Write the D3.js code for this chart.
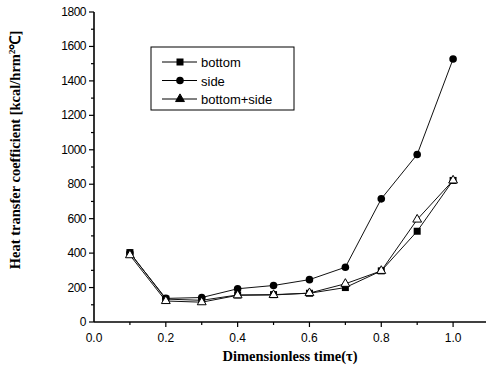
<!DOCTYPE html>
<meta charset="utf-8">
<html>
  <head>
    <style>
      body { margin: 0; background: #fff; }
      text.tick { font-family: "Liberation Sans", Arial, sans-serif; font-size: 12px; fill: #000; }
      text.title { font-family: "Liberation Serif", "Times New Roman", serif; font-weight: bold; font-size: 14.5px; fill: #000; }
      text.legend { font-family: "Liberation Sans", Arial, sans-serif; font-size: 13px; fill: #000; }
    </style>
    <script src="https://d3js.org/d3.v7.min.js"></script>
  </head>
  <body>
    <script>

      var width = 486,
          height = 373;

      // data
      var times = [0.1, 0.2, 0.3, 0.4, 0.5, 0.6, 0.7, 0.8, 0.9, 1.0];
      var bottom = [403, 133, 126, 157, 159, 167, 200, 297, 527, 822];
      var side = [400, 137, 142, 193, 212, 246, 318, 715, 973, 1527];
      var bottomSide = [388, 122, 115, 155, 157, 168, 222, 297, 595, 822];
      var seriesNames = ["bottom", "side", "bottom+side"];
      var xTicks = [0.0, 0.2, 0.4, 0.6, 0.8, 1.0];
      var yTicks = [0, 200, 400, 600, 800, 1000, 1200, 1400, 1600, 1800];

      var series = [
          {name: seriesNames[0], values: bottom, shape: "square"},
          {name: seriesNames[1], values: side, shape: "circle"},
          {name: seriesNames[2], values: bottomSide, shape: "triangle"}
      ];

      var svg = d3.select("body").append("svg")
          .attr("width", width)
          .attr("height", height);

      var x = d3.scaleLinear().domain([0, 1.1]).range([94, 489]);
      var y = d3.scaleLinear().domain([0, 1800]).range([322, 12]);

      // axes
      var xAxis = svg.append("g").attr("transform", "translate(0," + y(0) + ")");
      xAxis.append("line").attr("x1", x(0)).attr("x2", width).attr("stroke", "#000").attr("stroke-width", 1.6);
      xAxis.selectAll(".minor").data(d3.range(1, 11).map(function(i) { return i / 10; }))
          .enter().append("line")
          .attr("x1", function(d) { return x(d); }).attr("x2", function(d) { return x(d); })
          .attr("y1", 0).attr("y2", function(d, i) { return i % 2 ? 5 : 3; })
          .attr("stroke", "#000").attr("stroke-width", 1.2);
      xAxis.selectAll(".lab").data(xTicks)
          .enter().append("text").attr("class", "tick")
          .attr("x", function(d) { return x(d); }).attr("y", 20)
          .attr("text-anchor", "middle")
          .text(function(d) { return d.toFixed(1); });

      var yAxis = svg.append("g").attr("transform", "translate(" + x(0) + ",0)");
      yAxis.append("line").attr("y1", y(0)).attr("y2", y(1800)).attr("stroke", "#000").attr("stroke-width", 1.6);
      yAxis.selectAll(".minor").data(d3.range(0, 19).map(function(i) { return i * 100; }))
          .enter().append("line")
          .attr("y1", function(d) { return y(d); }).attr("y2", function(d) { return y(d); })
          .attr("x1", 0).attr("x2", function(d, i) { return i % 2 ? -3 : -5; })
          .attr("stroke", "#000").attr("stroke-width", 1.2);
      yAxis.selectAll(".lab").data(yTicks)
          .enter().append("text").attr("class", "tick")
          .attr("x", -8).attr("y", function(d) { return y(d) + 4; })
          .attr("text-anchor", "end")
          .style("letter-spacing", "-0.5px")
          .text(function(d) { return d; });

      // titles
      svg.append("text").attr("class", "title")
          .attr("x", 290).attr("y", 361)
          .attr("text-anchor", "middle")
          .text("Dimensionless time(τ)");

      var yt = svg.append("text").attr("class", "title")
          .attr("transform", "translate(20,150)rotate(-90)")
          .attr("text-anchor", "middle");
      yt.append("tspan").text("Heat transfer coefficient [kcal/hrm");
      yt.append("tspan").attr("dy", -5).style("font-size", "9px").text("2");
      yt.append("tspan").attr("dy", 5).text("℃]");

      function marker(sel, shape, filled) {
          if (shape === "square") {
              sel.append("rect").attr("x", -3.5).attr("y", -3.5).attr("width", 7).attr("height", 7)
                  .attr("fill", "#000");
          } else if (shape === "circle") {
              sel.append("circle").attr("r", 3.8).attr("fill", "#000");
          } else {
              sel.append("path").attr("d", d3.symbol(d3.symbolTriangle, 34)())
                  .attr("fill", filled ? "#000" : "#fff")
                  .attr("stroke", "#000").attr("stroke-width", 1);
          }
      }

      var line = d3.line()
          .x(function(d, i) { return x(times[i]); })
          .y(function(d) { return y(d); });

      series.forEach(function(s) {
          svg.append("path")
              .attr("d", line(s.values))
              .attr("fill", "none")
              .attr("stroke", "#111")
              .attr("stroke-width", 1);
      });

      series.forEach(function(s) {
          s.values.forEach(function(v, i) {
              var g = svg.append("g").attr("transform", "translate(" + x(times[i]) + "," + y(v) + ")");
              marker(g, s.shape, false);
          });
      });

      // legend
      var legend = svg.append("g").attr("transform", "translate(151,47)");
      legend.append("rect").attr("width", 143).attr("height", 63)
          .attr("fill", "#fff").attr("stroke", "#000").attr("stroke-width", 1);
      series.forEach(function(s, i) {
          var row = legend.append("g").attr("transform", "translate(0," + (15 + i * 18.5) + ")");
          row.append("line").attr("x1", 11).attr("x2", 46).attr("stroke", "#000").attr("stroke-width", 1);
          var m = row.append("g").attr("transform", "translate(29,0)");
          marker(m, s.shape, true);
          row.append("text").attr("class", "legend").attr("x", 50).attr("y", 5).text(s.name);
      });

    </script>
  </body>
</html>
